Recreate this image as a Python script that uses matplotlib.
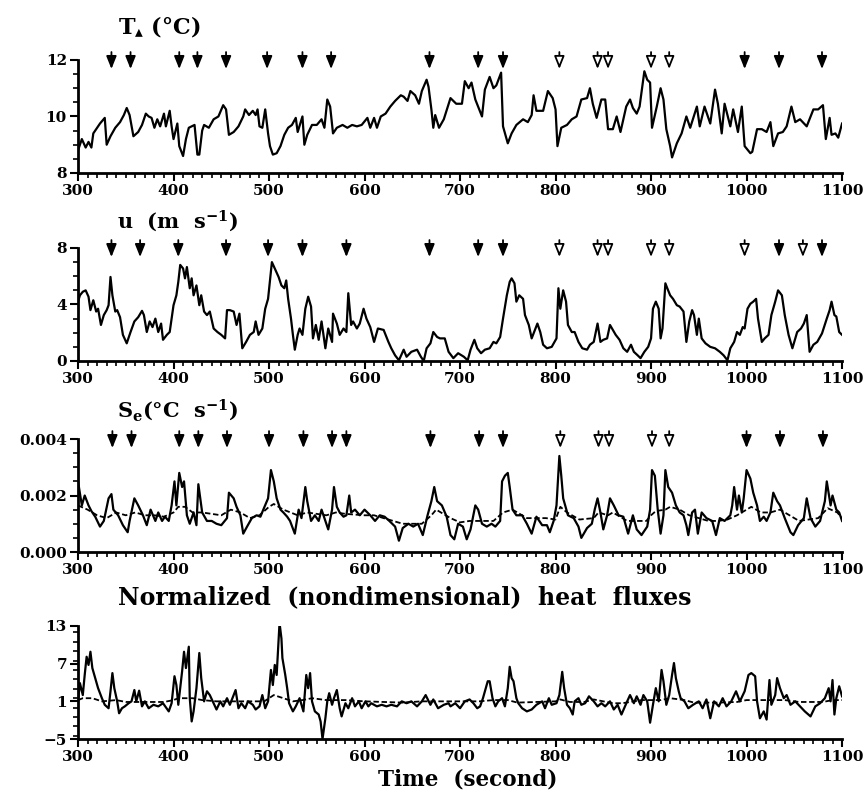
"""
Four stacked time series: air temperature, wind speed, ramp amplitude
and normalized heat fluxes, with event arrows on the first three.
"""

import matplotlib
matplotlib.use('Agg')
import matplotlib.pyplot as plt
from matplotlib.ticker import MultipleLocator
import numpy as np

# --- data (time in s, values as read) ---
ta_pts = [(300, 8.8), (304, 9.2), (308, 8.9), (311, 9.1), (314, 8.9), (316, 9.4), (320, 9.6),
          (323, 9.75), (328, 9.95), (330, 9.0), (334, 9.3), (339, 9.6), (344, 9.8), (348, 10.05),
          (351, 10.3), (354, 10.05), (358, 9.3), (363, 9.45), (367, 9.7), (371, 10.1), (374, 10.0),
          (377, 9.95), (380, 9.6), (383, 9.9), (386, 9.65), (390, 10.1), (392, 9.65), (396, 10.2),
          (398, 9.65), (400, 9.2), (404, 9.75), (406, 8.95), (410, 8.6), (413, 9.2), (416, 9.6),
          (419, 9.65), (422, 9.7), (425, 8.65), (427, 8.65), (430, 9.5), (432, 9.7), (437, 9.6),
          (442, 9.9), (447, 10.0), (452, 10.4), (455, 10.25), (458, 9.35), (463, 9.45), (468, 9.65),
          (473, 10.0), (475, 10.25), (479, 10.05), (483, 10.2), (486, 10.05), (488, 10.25),
          (490, 9.65), (493, 9.6), (496, 10.25), (499, 9.4), (501, 8.95), (504, 8.65), (508, 8.7),
          (512, 8.95), (516, 9.35), (520, 9.6), (524, 9.7), (528, 9.95), (530, 9.45), (535, 10.0),
          (537, 9.0), (540, 9.35), (545, 9.7), (550, 9.7), (555, 9.9), (558, 9.6), (561, 10.6),
          (564, 10.35), (567, 9.4), (571, 9.6), (577, 9.7), (582, 9.6), (587, 9.7), (592, 9.65),
          (597, 9.7), (603, 9.95), (606, 9.6), (610, 9.95), (613, 9.6), (617, 10.0), (622, 10.1),
          (627, 10.35), (632, 10.55), (638, 10.75), (641, 10.7), (645, 10.55), (648, 10.9),
          (653, 10.75), (657, 10.45), (660, 10.9), (665, 11.3), (667, 11.05), (670, 10.25),
          (672, 9.6), (674, 10.05), (678, 9.6), (683, 9.9), (690, 10.65), (696, 10.45),
          (702, 10.45), (705, 11.25), (709, 11.0), (712, 11.2), (716, 10.6), (723, 10.0),
          (726, 10.95), (731, 11.4), (735, 11.0), (738, 11.1), (743, 11.55), (745, 9.65),
          (750, 9.05), (754, 9.4), (759, 9.7), (766, 9.9), (771, 9.8), (775, 10.05), (777, 10.75),
          (780, 10.2), (787, 10.2), (792, 10.9), (797, 10.65), (800, 10.25), (802, 8.95),
          (806, 9.6), (812, 9.7), (817, 9.9), (822, 10.0), (827, 10.6), (833, 10.65), (836, 11.0),
          (839, 10.45), (843, 9.95), (848, 10.6), (852, 10.6), (855, 9.55), (860, 9.55),
          (864, 10.0), (868, 9.45), (874, 10.35), (878, 10.6), (881, 10.3), (885, 10.1),
          (888, 10.35), (893, 11.6), (896, 11.3), (899, 11.2), (901, 9.6), (906, 10.35),
          (910, 11.0), (913, 10.6), (916, 9.55), (920, 8.95), (922, 8.55), (927, 9.05),
          (932, 9.4), (937, 10.0), (941, 9.6), (948, 10.35), (951, 9.65), (956, 10.35),
          (962, 9.75), (967, 10.95), (970, 10.45), (974, 9.4), (977, 10.45), (983, 9.65),
          (986, 10.25), (991, 9.45), (995, 10.35), (998, 8.95), (1004, 8.7), (1006, 8.75),
          (1011, 9.55), (1016, 9.55), (1021, 9.45), (1025, 9.8), (1028, 8.95), (1033, 9.4),
          (1038, 9.45), (1042, 9.65), (1047, 10.35), (1051, 9.8), (1056, 9.9), (1063, 9.65),
          (1070, 10.25), (1075, 10.25), (1080, 10.4), (1083, 9.2), (1087, 9.95), (1089, 9.35),
          (1093, 9.4), (1096, 9.25), (1100, 9.75)]

u_pts = [(300, 4.2), (302, 4.65), (305, 4.9), (308, 5.0), (311, 4.55), (313, 3.6), (316, 4.3),
         (319, 3.5), (321, 3.7), (324, 2.55), (327, 3.25), (330, 3.6), (332, 3.95), (334, 5.95),
         (336, 4.65), (339, 3.5), (341, 3.6), (344, 3.1), (347, 1.85), (351, 1.25), (355, 2.05),
         (359, 2.8), (363, 3.1), (367, 3.55), (369, 3.25), (372, 2.05), (375, 2.8), (378, 2.4),
         (381, 3.0), (384, 2.05), (387, 2.65), (389, 1.5), (393, 1.85), (396, 2.05), (400, 3.95),
         (403, 4.65), (405, 5.6), (407, 6.8), (410, 6.55), (412, 5.85), (414, 6.65), (417, 5.15),
         (419, 5.85), (421, 4.65), (424, 5.35), (427, 3.95), (429, 4.65), (432, 3.5), (435, 3.25),
         (438, 3.5), (442, 2.3), (446, 2.05), (450, 1.85), (454, 1.6), (456, 3.6), (459, 3.6),
         (463, 3.5), (466, 2.55), (469, 3.35), (472, 0.9), (476, 1.35), (480, 1.85), (484, 2.05),
         (486, 2.8), (489, 1.85), (493, 2.3), (496, 3.7), (499, 4.4), (501, 5.7), (503, 7.0),
         (506, 6.55), (510, 5.95), (513, 5.35), (516, 5.15), (518, 5.7), (520, 4.4), (523, 3.0),
         (525, 1.85), (527, 0.8), (530, 1.85), (532, 2.3), (535, 1.85), (538, 3.7), (541, 4.55),
         (544, 3.85), (546, 1.6), (549, 2.55), (552, 1.5), (555, 2.8), (559, 0.9), (562, 2.3),
         (566, 1.35), (567, 3.35), (571, 2.65), (574, 1.85), (578, 2.3), (581, 2.05), (583, 4.8),
         (586, 2.55), (588, 2.8), (592, 2.3), (595, 2.65), (599, 3.7), (602, 3.0), (606, 2.4),
         (610, 1.35), (614, 2.3), (620, 2.2), (625, 1.35), (628, 0.9), (632, 0.4), (636, 0.05),
         (641, 0.8), (644, 0.3), (649, 0.65), (655, 0.8), (659, 0.3), (662, 0.0), (665, 0.9),
         (669, 1.25), (672, 2.05), (676, 1.7), (679, 1.6), (684, 1.6), (688, 0.65), (693, 0.2),
         (698, 0.55), (704, 0.3), (708, 0.05), (711, 0.8), (715, 1.5), (718, 0.9), (722, 0.55),
         (726, 0.8), (731, 0.9), (735, 1.35), (738, 1.25), (742, 1.7), (745, 3.0), (749, 4.65),
         (752, 5.6), (754, 5.85), (757, 5.5), (759, 4.2), (762, 4.65), (766, 4.4), (768, 3.25),
         (772, 2.55), (775, 1.6), (779, 2.3), (781, 2.65), (784, 2.05), (787, 1.15), (791, 0.9),
         (796, 1.0), (801, 1.6), (803, 5.15), (805, 3.7), (808, 5.0), (811, 4.2), (813, 2.55),
         (817, 2.05), (820, 2.05), (824, 1.35), (828, 0.9), (833, 0.8), (836, 1.15), (840, 1.35),
         (844, 2.65), (847, 1.35), (850, 1.5), (854, 1.6), (857, 2.55), (860, 2.2), (863, 1.85),
         (867, 1.5), (871, 0.9), (875, 0.65), (879, 1.15), (882, 0.65), (886, 0.4), (889, 0.2),
         (893, 0.65), (897, 1.0), (900, 1.6), (902, 3.7), (905, 4.2), (908, 3.7), (910, 1.6),
         (912, 2.3), (915, 5.5), (917, 5.15), (920, 4.65), (923, 4.4), (927, 3.95), (930, 3.85),
         (934, 3.5), (937, 1.35), (940, 2.8), (943, 3.6), (945, 3.25), (948, 1.85), (950, 3.0),
         (953, 1.6), (957, 1.25), (962, 1.0), (967, 0.9), (972, 0.65), (976, 0.4), (980, 0.05),
         (983, 0.9), (987, 1.35), (990, 2.05), (993, 1.85), (996, 2.4), (998, 2.3), (1001, 3.7),
         (1004, 4.05), (1007, 4.2), (1010, 4.4), (1012, 3.0), (1016, 1.35), (1019, 1.6),
         (1023, 1.85), (1026, 3.25), (1030, 4.2), (1033, 5.0), (1037, 4.65), (1040, 3.25),
         (1044, 1.85), (1048, 0.9), (1053, 2.05), (1057, 2.3), (1060, 2.65), (1063, 3.25),
         (1066, 0.65), (1070, 1.15), (1074, 1.35), (1079, 1.95), (1084, 3.0), (1087, 3.6),
         (1089, 4.2), (1092, 3.25), (1094, 3.15), (1097, 2.05), (1100, 1.85)]

# ramp amplitude, units of 1e-3 degC/s
se_pts = [(300, 2.5), (304, 1.65), (307, 2.0), (311, 1.65), (314, 1.45), (318, 1.25), (323, 0.9),
          (327, 1.1), (332, 1.9), (335, 2.05), (337, 1.5), (342, 1.3), (347, 0.95), (352, 0.7),
          (354, 1.1), (359, 1.9), (363, 1.65), (368, 1.3), (372, 0.95), (376, 1.5), (381, 1.1),
          (384, 1.4), (388, 1.1), (391, 1.25), (395, 1.1), (398, 1.65), (401, 2.5), (403, 1.65),
          (406, 2.8), (409, 2.3), (411, 2.5), (414, 1.3), (417, 1.0), (421, 1.4), (424, 0.95),
          (426, 2.4), (430, 1.4), (435, 1.1), (440, 1.1), (445, 1.0), (450, 0.95), (456, 1.2),
          (458, 2.1), (463, 1.9), (466, 1.6), (470, 1.3), (473, 0.65), (477, 0.9), (482, 1.2),
          (487, 1.3), (491, 1.25), (494, 1.5), (499, 1.9), (502, 2.9), (505, 2.5), (508, 1.9),
          (512, 1.5), (515, 1.4), (519, 1.25), (522, 1.1), (527, 0.65), (531, 1.5), (534, 1.2),
          (538, 2.3), (540, 1.8), (544, 1.1), (548, 1.3), (552, 1.1), (555, 1.5), (559, 1.1),
          (562, 0.8), (566, 1.5), (568, 2.3), (571, 1.6), (574, 1.4), (578, 1.25), (581, 1.3),
          (584, 2.0), (586, 1.4), (590, 1.5), (595, 1.3), (600, 1.5), (606, 1.3), (611, 1.1),
          (616, 1.3), (621, 1.25), (626, 1.1), (632, 0.9), (636, 0.4), (640, 0.85), (646, 1.0),
          (651, 0.9), (656, 1.0), (661, 0.6), (666, 1.3), (670, 1.8), (673, 2.3), (676, 1.8),
          (681, 1.65), (686, 1.25), (690, 0.6), (694, 0.45), (698, 1.0), (703, 0.9), (707, 0.45),
          (711, 0.8), (714, 1.3), (716, 1.65), (719, 1.5), (723, 1.0), (728, 0.9), (733, 1.0),
          (737, 0.9), (742, 1.1), (744, 2.5), (747, 2.7), (750, 2.8), (752, 2.3), (755, 1.5),
          (759, 1.3), (765, 1.3), (770, 1.0), (775, 0.65), (780, 1.25), (786, 0.95), (791, 0.95),
          (794, 0.7), (798, 1.1), (801, 1.65), (804, 3.4), (806, 2.7), (808, 1.9), (813, 1.3),
          (819, 1.2), (824, 0.9), (827, 0.5), (833, 0.85), (838, 1.0), (841, 1.5), (844, 1.9),
          (847, 1.4), (850, 0.8), (854, 1.3), (857, 1.9), (861, 1.65), (866, 1.3), (871, 1.25),
          (876, 0.65), (881, 1.3), (885, 0.8), (890, 0.6), (896, 0.9), (899, 1.5), (901, 2.9),
          (904, 2.7), (907, 1.5), (910, 0.65), (913, 1.3), (915, 2.9), (918, 2.3), (922, 2.1),
          (926, 1.65), (930, 1.4), (934, 1.3), (937, 0.95), (939, 0.6), (943, 1.4), (946, 1.5),
          (949, 0.65), (953, 1.4), (958, 1.2), (964, 1.1), (968, 0.6), (972, 1.2), (977, 1.1),
          (983, 1.3), (985, 1.65), (987, 2.3), (990, 1.5), (992, 2.0), (995, 1.4), (997, 1.9),
          (1000, 2.9), (1004, 2.6), (1007, 2.1), (1011, 1.65), (1014, 1.1), (1018, 1.25),
          (1021, 1.1), (1025, 1.4), (1028, 2.1), (1032, 1.8), (1035, 1.65), (1040, 1.2),
          (1046, 0.7), (1049, 0.6), (1054, 0.95), (1060, 1.2), (1063, 1.9), (1067, 1.2),
          (1072, 0.9), (1077, 1.1), (1082, 1.8), (1084, 2.5), (1088, 1.65), (1090, 2.0),
          (1094, 1.5), (1097, 1.4), (1100, 1.1)]

se_mean_pts = [(300, 1.65), (310, 1.5), (320, 1.3), (330, 1.2), (340, 1.4), (350, 1.3), (360, 1.4),
               (370, 1.3), (380, 1.3), (390, 1.25), (400, 1.4), (405, 1.6), (412, 1.6), (420, 1.4),
               (430, 1.4), (440, 1.35), (450, 1.3), (460, 1.5), (470, 1.4), (480, 1.2), (490, 1.3),
               (500, 1.6), (505, 1.7), (515, 1.5), (530, 1.3), (540, 1.4), (550, 1.35), (560, 1.3),
               (570, 1.4), (580, 1.35), (600, 1.3), (610, 1.3), (620, 1.2), (630, 1.1), (640, 1.0),
               (650, 1.0), (660, 1.0), (670, 1.3), (675, 1.5), (680, 1.4), (690, 1.2), (700, 1.05),
               (710, 1.1), (720, 1.1), (735, 1.1), (745, 1.4), (755, 1.5), (770, 1.2), (790, 1.2),
               (800, 1.15), (805, 1.6), (812, 1.4), (825, 1.15), (840, 1.2), (845, 1.4), (855, 1.3),
               (860, 1.4), (875, 1.1), (895, 1.1), (900, 1.3), (905, 1.45), (915, 1.5), (920, 1.6),
               (930, 1.5), (940, 1.3), (950, 1.2), (960, 1.1), (970, 1.1), (980, 1.15), (990, 1.3),
               (1000, 1.5), (1005, 1.6), (1015, 1.4), (1025, 1.4), (1035, 1.5), (1045, 1.3),
               (1055, 1.1), (1065, 1.15), (1075, 1.2), (1085, 1.55), (1095, 1.4), (1100, 1.2)]

flux_pts = [(300, 1.0), (302, 3.9), (305, 2.0), (307, 5.2), (309, 8.1), (311, 6.8), (313, 8.9),
            (315, 6.3), (318, 4.7), (321, 3.1), (325, 1.5), (328, 0.45), (332, -0.1), (334, 2.6),
            (336, 5.5), (338, 3.1), (341, 1.0), (343, -0.9), (346, -0.1), (349, 0.2), (353, 0.7),
            (356, 1.0), (359, 2.8), (361, 1.0), (364, 2.7), (367, 0.2), (370, 1.0), (374, -0.1),
            (379, 0.45), (384, 0.2), (389, 0.7), (395, -0.6), (398, 0.7), (401, 5.0), (403, 3.6),
            (405, 0.45), (409, 5.8), (411, 8.9), (413, 6.3), (416, 9.7), (417, 1.5), (419, -2.2),
            (421, -0.6), (424, 3.1), (427, 8.7), (429, 4.7), (432, 1.0), (435, 2.6), (438, 2.0),
            (442, 0.7), (445, -0.3), (449, 1.0), (452, 0.2), (456, 1.5), (459, 0.45), (463, 2.0),
            (465, 2.8), (468, -0.1), (471, 0.7), (475, -0.1), (478, 1.0), (483, 0.45), (486, -0.3),
            (490, 0.2), (493, 2.0), (496, -0.1), (499, 1.0), (502, 6.0), (504, 3.6), (506, 6.8),
            (508, 5.2), (511, 13.5), (513, 11.0), (514, 7.9), (517, 5.2), (519, 3.1), (521, 0.7),
            (525, -0.6), (528, 0.2), (532, 1.5), (536, -0.6), (539, 5.2), (541, 3.1), (543, 5.5),
            (545, 1.0), (548, -0.6), (552, -1.1), (554, -2.2), (556, -5.0), (559, -1.7), (561, 1.0),
            (563, 2.3), (566, 0.45), (568, 1.5), (571, 2.8), (574, -0.1), (576, -1.4), (580, 0.7),
            (583, -0.1), (587, 1.5), (590, 0.2), (594, 1.0), (597, -0.1), (601, 1.0), (604, 0.2),
            (607, 0.7), (613, 0.2), (618, 0.45), (623, 0.2), (628, 0.45), (634, 0.2), (639, 1.0),
            (644, 0.7), (649, 1.0), (655, 0.2), (660, 1.0), (664, 2.0), (669, 0.45), (672, 1.3),
            (677, -0.1), (683, 0.45), (688, 0.7), (690, 0.2), (695, 0.7), (700, -0.1), (705, 1.0),
            (710, 1.3), (714, 0.7), (718, -0.1), (721, 0.2), (724, 1.5), (729, 4.2), (731, 4.2),
            (734, 1.5), (737, 0.2), (740, 1.0), (744, 1.5), (747, 0.2), (750, 3.1), (752, 6.5),
            (754, 4.7), (756, 4.2), (759, 1.5), (761, 0.7), (765, -0.1), (770, -0.6), (775, -0.3),
            (780, 0.45), (786, 1.0), (789, -0.1), (793, 1.5), (796, 0.45), (801, 0.7), (804, 2.0),
            (807, 5.7), (809, 3.1), (812, 0.45), (815, -0.1), (818, -1.1), (820, 1.0), (824, 1.5),
            (827, 0.45), (831, 0.7), (835, 1.8), (840, 1.0), (844, 0.2), (848, 0.7), (852, 0.2),
            (857, 1.0), (861, -0.3), (865, 0.45), (869, -1.1), (875, 1.0), (878, 2.0), (882, 0.7),
            (885, 1.8), (889, 0.45), (892, 2.0), (896, 1.0), (899, -2.4), (902, 0.45), (905, 3.1),
            (908, 1.0), (911, 6.0), (913, 4.2), (916, 0.45), (919, 2.0), (922, 5.2), (924, 7.1),
            (926, 4.7), (929, 2.6), (931, 1.5), (935, 1.0), (939, -0.1), (944, 0.45), (950, 1.0),
            (954, -0.1), (958, 1.3), (962, -1.7), (966, 1.0), (971, 0.2), (975, 1.5), (979, 0.2),
            (984, 1.0), (989, 2.6), (993, 1.0), (998, 2.6), (1002, 5.2), (1005, 5.5), (1009, 5.0),
            (1011, 1.0), (1014, -1.7), (1018, -0.6), (1021, -1.9), (1024, 4.4), (1026, 0.45),
            (1030, 2.0), (1032, 4.7), (1035, 3.1), (1039, 1.5), (1042, 2.0), (1046, 0.45),
            (1051, 1.0), (1056, 0.2), (1061, -0.6), (1067, -1.4), (1072, 0.2), (1077, 0.7),
            (1082, 1.5), (1086, 3.1), (1088, 1.0), (1090, 4.4), (1092, -1.1), (1094, 1.5),
            (1097, 3.4), (1100, 1.8)]

flux_mean_pts = [(300, 1.2), (305, 1.5), (315, 1.5), (325, 1.0), (340, 1.2), (350, 0.9), (370, 0.9),
                 (390, 0.9), (400, 1.2), (405, 1.5), (420, 1.5), (430, 1.2), (445, 1.0), (470, 1.0),
                 (495, 1.0), (505, 2.0), (515, 1.5), (525, 1.0), (535, 1.2), (545, 1.5), (560, 1.2),
                 (580, 1.2), (600, 1.0), (620, 0.9), (640, 0.8), (660, 1.0), (680, 1.0), (700, 1.0),
                 (720, 1.0), (735, 1.2), (750, 1.2), (760, 0.8), (780, 0.9), (800, 1.0), (805, 1.3),
                 (815, 0.9), (830, 0.9), (840, 1.3), (850, 1.0), (860, 0.7), (870, 0.7), (890, 1.2),
                 (910, 1.2), (920, 1.5), (935, 1.2), (945, 0.8), (970, 0.8), (990, 0.9), (1000, 1.2),
                 (1020, 1.2), (1040, 1.2), (1055, 0.9), (1080, 0.9), (1090, 1.2), (1100, 1.2)]

# event arrows: filled heads and open heads
arr_ta_solid = [335, 355, 406, 425, 455, 498, 535, 565, 668, 719, 745, 998, 1034, 1079]
arr_ta_open = [804, 844, 855, 900, 919]
arr_u_solid = [335, 365, 405, 455, 499, 535, 581, 668, 719, 745, 1034, 1079]
arr_u_open = [804, 844, 855, 900, 919, 998, 1059]
arr_se_solid = [336, 356, 406, 426, 456, 500, 536, 566, 581, 669, 720, 745, 1000, 1035, 1080]
arr_se_open = [805, 845, 856, 901, 919]


def unzip(pts, scale=1.0):
    a = np.array(pts, dtype=float)
    return a[:, 0], a[:, 1] * scale


plt.rcParams['font.family'] = 'DejaVu Serif'
plt.rcParams['font.weight'] = 'bold'
plt.rcParams['mathtext.fontset'] = 'custom'
plt.rcParams['mathtext.rm'] = 'DejaVu Serif:bold'
plt.rcParams['mathtext.it'] = 'DejaVu Serif:bold'
plt.rcParams['mathtext.bf'] = 'DejaVu Serif:bold'
plt.rcParams['axes.unicode_minus'] = True

fs = 11
lw = 1.6

fig = plt.figure(figsize=(8.64, 7.92), dpi=100)
x0, w, h = 0.0903, 0.8843, 0.1427
bottoms = [0.7816, 0.5442, 0.3030, 0.0669]
axs = [fig.add_axes([x0, b, w, h]) for b in bottoms]


def style_axis(ax, ylim, yticks, ylabels, yminor):
    ax.set_xlim(300, 1100)
    ax.set_ylim(*ylim)
    for s in ['top', 'right']:
        ax.spines[s].set_visible(False)
    for s in ['left', 'bottom']:
        ax.spines[s].set_linewidth(2.0)
    ax.set_xticks(np.arange(300, 1101, 100))
    ax.xaxis.set_minor_locator(MultipleLocator(10))
    ax.set_yticks(yticks)
    ax.set_yticklabels(ylabels)
    ax.yaxis.set_minor_locator(MultipleLocator(yminor))
    ax.tick_params(which='major', direction='out', length=6, width=1.5, labelsize=fs, pad=2)
    ax.tick_params(which='minor', direction='out', length=3.5, width=1.2)


def arrows(ax, solid, hollow):
    for tlist, fc in [(solid, 'k'), (hollow, 'w')]:
        for t in tlist:
            ax.annotate('', xy=(t, 0.92), xycoords=('data', 'axes fraction'),
                        xytext=(t, 1.07), textcoords=('data', 'axes fraction'),
                        arrowprops=dict(arrowstyle='-|>,head_length=0.55,head_width=0.22',
                                        fc=fc, ec='k', lw=1.3, shrinkA=0, shrinkB=0,
                                        mutation_scale=14),
                        annotation_clip=False)


ax1, ax2, ax3, ax4 = axs

t, v = unzip(ta_pts)
ax1.plot(t, v, '-k', lw=lw)
style_axis(ax1, (8, 12), [8, 10, 12], ['8', '10', '12'], 0.5)
arrows(ax1, arr_ta_solid, arr_ta_open)

t, v = unzip(u_pts)
ax2.plot(t, v, '-k', lw=lw)
style_axis(ax2, (0, 8), [0, 4, 8], ['0', '4', '8'], 1)
arrows(ax2, arr_u_solid, arr_u_open)

t, v = unzip(se_pts, 1e-3)
ax3.plot(t, v, '-k', lw=lw)
t, v = unzip(se_mean_pts, 1e-3)
ax3.plot(t, v, '--k', lw=1.3, dashes=(3, 1.5))
style_axis(ax3, (0, 0.004), [0, 0.002, 0.004], ['0.000', '0.002', '0.004'], 0.0005)
arrows(ax3, arr_se_solid, arr_se_open)

t, v = unzip(flux_pts)
ax4.plot(t, v, '-k', lw=lw)
t, v = unzip(flux_mean_pts)
ax4.plot(t, v, '--k', lw=1.3, dashes=(3, 1.5))
style_axis(ax4, (-5, 13), [-5, 1, 7, 13], ['\u22125', '1', '7', '13'], 1.5)

# panel headings
fig.text(0.1366, 0.958, r'T$_{\blacktriangle}$ (°C)', fontsize=16, va='baseline')
fig.text(0.1355, 0.712, r'u  (m  s$^{-1}$)', fontsize=15, va='baseline')
fig.text(0.1355, 0.4735, r'S$_{\rm e}$(°C  s$^{-1}$)', fontsize=15, va='baseline')
fig.text(0.1366, 0.2374, 'Normalized  (nondimensional)  heat  fluxes', fontsize=17,
         va='baseline')
fig.text(0.5417, 0.0076, 'Time  (second)', fontsize=15.5, va='baseline', ha='center')

plt.savefig('out.png', dpi=100)
